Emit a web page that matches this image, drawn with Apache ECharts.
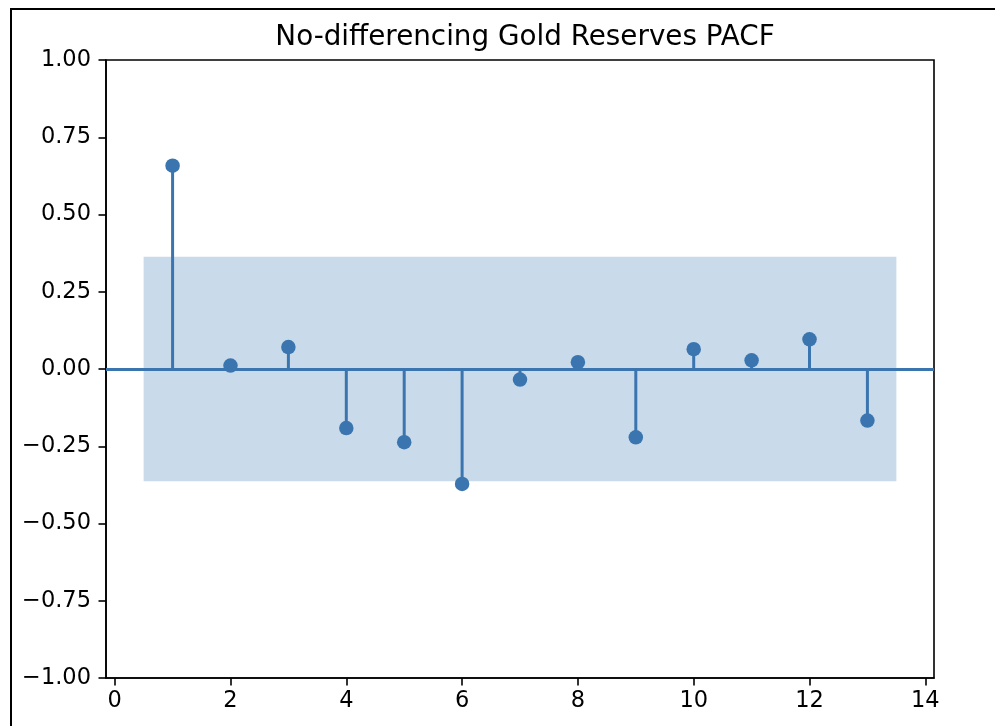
<!DOCTYPE html>
<html>
<head>
<meta charset="utf-8">
<script src="https://cdn.jsdelivr.net/npm/echarts@6/dist/echarts.min.js"></script>
<style>
  html, body { margin: 0; padding: 0; background: #ffffff; }
  #chart { width: 995px; height: 726px; }
</style>
</head>
<body>
<div id="chart"></div>
<script>
// Partial autocorrelation of gold reserves (no differencing), lags 1..13
const lags = [1, 2, 3, 4, 5, 6, 7, 8, 9, 10, 11, 12, 13];
const pacf = [0.658, 0.011, 0.071, -0.191, -0.237, -0.372, -0.034, 0.022, -0.221, 0.064, 0.028, 0.096, -0.167];
// Confidence band edges (half a lag beyond the first and last lag)
const bandLags = [0.5, 13.5];
const bandUpper = [0.363, 0.363];
const bandLower = [-0.363, -0.363];
const xTicks = [0, 2, 4, 6, 8, 10, 12, 14];
const yTicks = [-1.0, -0.75, -0.5, -0.25, 0.0, 0.25, 0.5, 0.75, 1.0];
const titleText = 'No-differencing Gold Reserves PACF';

const blue = '#3a75af';
const bandColor = '#c9dbea';
const font = 'DejaVu Sans';

const fmtY = v => (v < 0 ? '\u2212' : '') + Math.abs(v).toFixed(2);

const chart = echarts.init(document.getElementById('chart'), null, { renderer: 'canvas' });

chart.setOption({
  animation: false,
  backgroundColor: '#ffffff',
  title: {
    text: titleText,
    left: 520,
    top: 19,
    textAlign: 'center',
    textStyle: { fontFamily: font, fontSize: 27.8, fontWeight: 'normal', color: '#000' }
  },
  grid: {
    left: 106, top: 60, right: 61, bottom: 48,
    show: true, borderColor: '#000', borderWidth: 1.6, backgroundColor: 'transparent'
  },
  xAxis: {
    type: 'value',
    min: -0.15, max: 14.15,
    splitLine: { show: false },
    axisLine: { show: true, onZero: false, lineStyle: { color: '#000', width: 1.6 } },
    axisTick: { show: true, length: 7.5, customValues: xTicks, lineStyle: { color: '#000', width: 1.6 } },
    axisLabel: {
      customValues: xTicks, margin: 12,
      fontFamily: font, fontSize: 22.5, color: '#000'
    }
  },
  yAxis: {
    type: 'value',
    min: -1, max: 1, interval: 0.25,
    splitLine: { show: false },
    axisLine: { show: true, onZero: false, lineStyle: { color: '#000', width: 1.6 } },
    axisTick: { show: true, length: 7.5, customValues: yTicks, lineStyle: { color: '#000', width: 1.6 } },
    axisLabel: {
      margin: 15, formatter: fmtY, customValues: yTicks,
      fontFamily: font, fontSize: 22.5, color: '#000'
    }
  },
  series: [
    {
      // shaded confidence interval
      type: 'custom',
      silent: true,
      z: 1,
      data: [[bandLags[0], bandLower[0], bandLags[1], bandUpper[1]]],
      renderItem: (params, api) => {
        const p0 = api.coord([api.value(0), api.value(3)]);
        const p1 = api.coord([api.value(2), api.value(1)]);
        return {
          type: 'rect',
          shape: { x: p0[0], y: p0[1], width: p1[0] - p0[0], height: p1[1] - p0[1] },
          style: { fill: bandColor }
        };
      }
    },
    {
      // zero reference line across the full axes
      type: 'line',
      data: [],
      markLine: {
        silent: true,
        symbol: 'none',
        label: { show: false },
        lineStyle: { color: blue, width: 3, type: 'solid' },
        data: [{ yAxis: 0 }]
      },
      z: 2
    },
    {
      // stems from zero to each coefficient
      type: 'custom',
      z: 3,
      data: lags.map((l, i) => [l, pacf[i]]),
      renderItem: (params, api) => {
        const a = api.coord([api.value(0), 0]);
        const b = api.coord([api.value(0), api.value(1)]);
        return {
          type: 'line',
          shape: { x1: a[0], y1: a[1], x2: b[0], y2: b[1] },
          style: { stroke: blue, lineWidth: 3 }
        };
      }
    },
    {
      type: 'scatter',
      z: 4,
      symbol: 'circle',
      symbolSize: 14.5,
      itemStyle: { color: blue, opacity: 1 },
      data: lags.map((l, i) => [l, pacf[i]])
    }
  ],
  graphic: [
    {
      type: 'rect',
      silent: true,
      z: 100,
      shape: { x: 11, y: 9, width: 1200, height: 1000 },
      style: { fill: 'none', stroke: '#000', lineWidth: 2 }
    }
  ]
});
</script>
</body>
</html>
